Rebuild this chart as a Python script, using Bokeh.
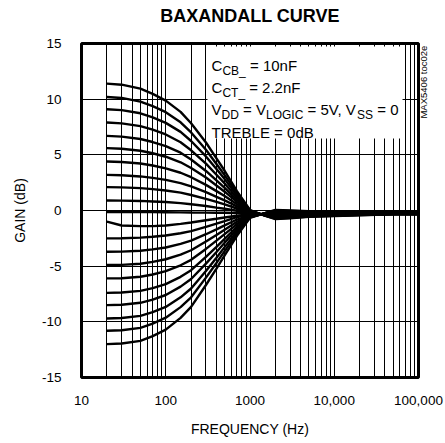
from bokeh.plotting import figure
from bokeh.models import Range1d, FixedTicker, Label, BoxAnnotation, LinearAxis
from bokeh.embed import file_html
from bokeh.resources import INLINE
import math

# ---------------- data ----------------
freq_hz = [20, 30, 50, 70, 100, 150, 200, 300, 400, 500, 700, 1000,
           1500, 2000, 3000, 5000, 10000, 20000, 50000, 100000]

bass_p11_4 = [11.4, 11.30, 10.94, 10.48, 9.87, 8.86, 7.84, 6.11, 4.68, 3.57, 1.74, 0.04,
              -0.46, -0.77, -0.69, -0.57, -0.49, -0.42, -0.35, -0.35]
bass_p10_2 = [10.2, 10.11, 9.78, 9.38, 8.83, 7.92, 7.01, 5.46, 4.18, 3.18, 1.54, 0.01,
              -0.45, -0.73, -0.66, -0.54, -0.47, -0.40, -0.34, -0.34]
bass_p9_1 = [9.1, 9.02, 8.73, 8.37, 7.87, 7.06, 6.24, 4.86, 3.72, 2.82, 1.35, -0.03,
             -0.44, -0.69, -0.62, -0.52, -0.45, -0.39, -0.33, -0.33]
bass_p7_9 = [7.9, 7.83, 7.58, 7.26, 6.83, 6.13, 5.41, 4.21, 3.21, 2.43, 1.15, -0.06,
             -0.43, -0.65, -0.59, -0.49, -0.43, -0.37, -0.32, -0.32]
bass_p6_7 = [6.7, 6.64, 6.42, 6.15, 5.79, 5.19, 4.58, 3.55, 2.70, 2.04, 0.95, -0.10,
             -0.42, -0.60, -0.55, -0.47, -0.41, -0.36, -0.31, -0.31]
bass_p5_6 = [5.6, 5.55, 5.37, 5.14, 4.83, 4.33, 3.82, 2.96, 2.24, 1.69, 0.77, -0.13,
             -0.41, -0.57, -0.52, -0.44, -0.40, -0.34, -0.30, -0.30]
bass_p4_4 = [4.4, 4.36, 4.22, 4.04, 3.79, 3.39, 2.99, 2.30, 1.74, 1.30, 0.57, -0.17,
             -0.39, -0.52, -0.48, -0.42, -0.38, -0.33, -0.28, -0.28]
bass_p3_2 = [3.2, 3.17, 3.06, 2.93, 2.75, 2.46, 2.16, 1.65, 1.23, 0.91, 0.37, -0.20,
             -0.38, -0.48, -0.45, -0.39, -0.35, -0.31, -0.27, -0.27]
bass_p2_1 = [2.1, 2.08, 2.01, 1.92, 1.80, 1.60, 1.39, 1.05, 0.77, 0.55, 0.18, -0.24,
             -0.37, -0.44, -0.41, -0.37, -0.34, -0.30, -0.26, -0.26]
bass_p0_9 = [0.9, 0.89, 0.86, 0.81, 0.76, 0.66, 0.56, 0.40, 0.26, 0.16, -0.02, -0.27,
             -0.36, -0.40, -0.38, -0.34, -0.32, -0.28, -0.25, -0.25]
bass_0_0 = [-0.15, -0.15, -0.15, -0.15, -0.16, -0.17, -0.18, -0.19, -0.20, -0.20, -0.22, -0.30,
            -0.35, -0.36, -0.35, -0.32, -0.30, -0.27, -0.24, -0.24]
bass_m1_2 = [-1.0, -1.35, -1.4, -1.4, -1.35, -1.2, -1.08, -0.88, -0.74, -0.63, -0.47, -0.33,
             -0.34, -0.33, -0.32, -0.30, -0.29, -0.26, -0.23, -0.23]
bass_m2_5 = [-2.5, -2.49, -2.44, -2.36, -2.25, -2.04, -1.85, -1.47, -1.18, -0.95, -0.60, -0.38,
             -0.33, -0.28, -0.28, -0.27, -0.26, -0.24, -0.22, -0.22]
bass_m3_7 = [-3.7, -3.69, -3.61, -3.49, -3.32, -3.00, -2.71, -2.13, -1.69, -1.34, -0.81, -0.41,
             -0.31, -0.24, -0.24, -0.24, -0.24, -0.22, -0.20, -0.20]
bass_m4_9 = [-4.9, -4.88, -4.78, -4.62, -4.38, -3.96, -3.57, -2.79, -2.20, -1.73, -1.02, -0.45,
             -0.30, -0.20, -0.20, -0.21, -0.22, -0.21, -0.19, -0.19]
bass_m6_1 = [-6.1, -6.08, -5.95, -5.75, -5.45, -4.92, -4.43, -3.45, -2.71, -2.12, -1.23, -0.48,
             -0.29, -0.16, -0.17, -0.19, -0.20, -0.19, -0.18, -0.18]
bass_m7_4 = [-7.4, -7.37, -7.22, -6.97, -6.61, -5.96, -5.36, -4.16, -3.26, -2.54, -1.46, -0.52,
             -0.28, -0.11, -0.13, -0.16, -0.17, -0.17, -0.17, -0.17]
bass_m8_5 = [-8.5, -8.47, -8.29, -8.00, -7.59, -6.84, -6.15, -4.77, -3.73, -2.90, -1.65, -0.56,
             -0.27, -0.07, -0.10, -0.13, -0.16, -0.16, -0.16, -0.16]
bass_m9_7 = [-9.7, -9.66, -9.46, -9.13, -8.66, -7.80, -7.01, -5.43, -4.24, -3.29, -1.86, -0.59,
             -0.25, -0.03, -0.06, -0.11, -0.14, -0.14, -0.14, -0.14]
bass_m10_8 = [-10.8, -10.76, -10.54, -10.16, -9.63, -8.68, -7.80, -6.03, -4.71, -3.65, -2.06, -0.62,
              -0.24, 0.01, -0.03, -0.08, -0.12, -0.13, -0.13, -0.13]
bass_m12_0 = [-12.0, -11.95, -11.71, -11.29, -10.70, -9.64, -8.66, -6.69, -5.22, -4.04, -2.27, -0.66,
              -0.23, 0.05, 0.01, -0.06, -0.10, -0.11, -0.12, -0.12]

curves = [bass_p11_4, bass_p10_2, bass_p9_1, bass_p7_9, bass_p6_7, bass_p5_6, bass_p4_4,
          bass_p3_2, bass_p2_1, bass_p0_9, bass_0_0, bass_m1_2, bass_m2_5, bass_m3_7,
          bass_m4_9, bass_m6_1, bass_m7_4, bass_m8_5, bass_m9_7, bass_m10_8, bass_m12_0]

x_ticks = [10, 100, 1000, 10000, 100000]
x_tick_labels = ["10", "100", "1000", "10,000", "100,000"]
y_ticks = [-15, -10, -5, 0, 5, 10, 15]
y_tick_labels = ["-15", "-10", "-5", "0", "5", "10", "15"]

title_text = "BAXANDALL CURVE"
x_label = "FREQUENCY (Hz)"
y_label = "GAIN (dB)"
side_note = "MAX5406 toc02e"

# ---------------- figure ----------------
FONT = "Liberation Sans"
p = figure(width=445, height=443, x_axis_type="log",
           x_range=Range1d(10, 100000), y_range=Range1d(-15, 15),
           output_backend="svg", toolbar_location=None, title_location=None,
           min_border_left=81, min_border_right=27, min_border_top=43, min_border_bottom=66)
p.background_fill_color = "white"
p.border_fill_color = "white"
p.outline_line_color = "black"
p.outline_line_width = 3

minor = [m * d for d in x_ticks[:-1] for m in range(2, 10)]
xt = FixedTicker(ticks=x_ticks, minor_ticks=minor)
yt = FixedTicker(ticks=y_ticks)
p.xaxis.ticker = xt
p.yaxis.ticker = yt
p.xgrid.ticker = xt
p.ygrid.ticker = yt
p.xaxis.major_label_overrides = dict(zip(x_ticks, x_tick_labels))
p.yaxis.major_label_overrides = dict(zip(y_ticks, y_tick_labels))

for ax in (p.xaxis[0], p.yaxis[0]):
    ax.axis_line_color = None
    ax.major_tick_line_color = None
    ax.minor_tick_line_color = None
    ax.major_tick_out = 0
    ax.major_tick_in = 0
    ax.minor_tick_out = 0
    ax.minor_tick_in = 0
    ax.major_label_text_font = FONT
    ax.major_label_text_font_size = "13.5px"
    ax.major_label_text_color = "black"
    ax.axis_label_text_font = FONT
    ax.axis_label_text_font_size = "14px"
    ax.axis_label_text_font_style = "normal"
    ax.axis_label_text_color = "black"

p.xaxis.axis_label = x_label
p.yaxis.axis_label = y_label
p.xaxis.major_label_standoff = 18
p.xaxis.axis_label_standoff = 13
p.yaxis.major_label_standoff = 20
p.yaxis.axis_label_standoff = 11

p.xgrid.grid_line_color = "black"
p.xgrid.grid_line_width = 1
p.xgrid.minor_grid_line_color = "black"
p.xgrid.minor_grid_line_width = 1
p.ygrid.grid_line_color = "black"
p.ygrid.grid_line_width = 1

for ys in curves:
    p.line(freq_hz, ys, line_color="black", line_width=2.4)

# white box for the conditions text
box = BoxAnnotation(left=313, right=64600, top=14.73, bottom=6.46,
                    fill_color="white", fill_alpha=1.0, line_color=None)
p.add_layout(box)

AX = 350
lines = [
    [("C", 0, 0, 15), ("CB_", 10.8, -5, 12), ("= 10nF", 38.4, 0, 15)],
    [("C", 0, 0, 15), ("CT_", 10.8, -5, 12), ("= 2.2nF", 37.6, 0, 15)],
    [("V", 0, 0, 15), ("DD", 10.0, -5, 12), ("= V", 31.5, 0, 15), ("LOGIC", 54.4, -5, 12),
     ("= 5V, V", 95.9, 0, 15), ("SS", 145.5, -5, 12), ("= 0", 165.7, 0, 15)],
    [("TREBLE = 0dB", 0, 0, 15)],
]
for i, parts in enumerate(lines):
    for txt, dx, dy, fs in parts:
        p.add_layout(Label(x=AX, y=13.02, x_offset=dx, y_offset=dy - 22.2 * i, text=txt,
                           text_font=FONT, text_font_size=f"{fs}px", text_color="black",
                           text_baseline="alphabetic", text_align="left"))

# chart title, drawn as the single label of a bare axis above the frame
title_pos = 1000
title_axis = LinearAxis(ticker=FixedTicker(ticks=[title_pos]),
                        major_label_overrides={title_pos: title_text},
                        axis_line_color=None, major_tick_line_color=None,
                        minor_tick_line_color=None, major_tick_in=0, major_tick_out=0,
                        minor_tick_in=0, minor_tick_out=0, major_label_standoff=18,
                        major_label_text_font=FONT, major_label_text_font_size="18px",
                        major_label_text_font_style="bold",
                        major_label_text_color="black")
p.add_layout(title_axis, "above")

# vertical figure code on the right, drawn as a label-only right axis
note_pos = 8.26
note_axis = LinearAxis(ticker=FixedTicker(ticks=[note_pos]),
                       major_label_overrides={note_pos: side_note},
                       major_label_orientation=math.pi / 2,
                       axis_line_color=None, major_tick_line_color=None,
                       minor_tick_line_color=None, major_tick_in=0, major_tick_out=0,
                       minor_tick_in=0, minor_tick_out=0, major_label_standoff=5,
                       major_label_text_font=FONT, major_label_text_font_size="9.5px",
                       major_label_text_color="black")
p.add_layout(note_axis, "right")

open("out.html", "w").write(file_html(p, INLINE))
